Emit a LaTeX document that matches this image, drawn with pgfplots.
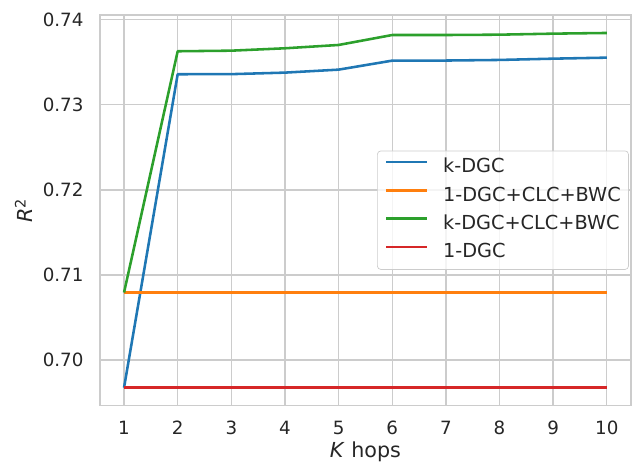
\documentclass[border=0pt]{standalone}
\usepackage{fontspec}
\setmainfont{DejaVu Sans}
\usepackage{pgfplots}
\pgfplotsset{compat=1.18}
\definecolor{tabblue}{HTML}{1F77B4}
\definecolor{taborange}{HTML}{FF7F0E}
\definecolor{tabgreen}{HTML}{2CA02C}
\definecolor{tabred}{HTML}{D62728}
\definecolor{gridc}{HTML}{CCCCCC}
\definecolor{txt}{HTML}{262626}
\begin{document}
\begin{tikzpicture}
\begin{axis}[
  scale only axis,
  width=311pt, height=228.6pt,
  xmin=0.55, xmax=10.45,
  ymin=0.69467, ymax=0.74055,
  xtick={1,2,3,4,5,6,7,8,9,10},
  ytick={0.70,0.71,0.72,0.73,0.74},
  /pgf/number format/assume math mode=true,
  tick style={draw=none},
  ticklabel style={font=\fontsize{10.7pt}{12.8pt}\selectfont, text=txt, inner sep=0pt},
  yticklabel style={/pgf/number format/fixed, /pgf/number format/fixed zerofill, /pgf/number format/precision=2, anchor=base east, xshift=-9.4pt, yshift=-3.9pt},
  xticklabel style={anchor=base, yshift=-17.3pt},
  grid=major,
  major grid style={draw=gridc, line width=0.8pt},
  axis line style={draw=gridc, line width=1pt},
  xlabel={\textit{K} hops},
  ylabel={\textit{R}\textsuperscript{2}},
  label style={font=\fontsize{12.1pt}{14.5pt}\selectfont, text=txt, inner sep=0pt},
  xlabel style={at={([yshift=-30.4pt]axis description cs:0.5,0)}, anchor=base},
  ylabel style={at={([xshift=-39.2pt]axis description cs:0,0.5)}, anchor=base},
  legend style={at={(0.996,0.5)}, anchor=east, draw=gridc, fill=white, fill opacity=0.8, text opacity=1, rounded corners=2pt, font=\fontsize{11.3pt}{13.5pt}\selectfont, text=txt, row sep=5.6pt, inner xsep=4.5pt, inner ysep=4.3pt, nodes={inner sep=0pt, text height=8.5pt, text depth=2.5pt}},
  legend cell align=left,
  legend image code/.code={\draw[#1] (0pt,3.3pt) -- (24pt,3.3pt);},
  /tikz/every odd column/.style={column sep=8.5pt},
  every axis plot/.append style={line width=1.5pt, line join=round},
]
\addplot[tabblue] coordinates {(1,0.69675) (2,0.73359) (3,0.73360) (4,0.73378) (5,0.73413) (6,0.73519) (7,0.73520) (8,0.73527) (9,0.73542) (10,0.73554)};
\addlegendentry{k-DGC}
\addplot[taborange] coordinates {(1,0.70793) (2,0.70793) (3,0.70793) (4,0.70793) (5,0.70793) (6,0.70793) (7,0.70793) (8,0.70793) (9,0.70793) (10,0.70793)};
\addlegendentry{1-DGC+CLC+BWC}
\addplot[tabgreen] coordinates {(1,0.70793) (2,0.73629) (3,0.73636) (4,0.73664) (5,0.73703) (6,0.73820) (7,0.73820) (8,0.73824) (9,0.73836) (10,0.73844)};
\addlegendentry{k-DGC+CLC+BWC}
\addplot[tabred] coordinates {(1,0.69675) (2,0.69675) (3,0.69675) (4,0.69675) (5,0.69675) (6,0.69675) (7,0.69675) (8,0.69675) (9,0.69675) (10,0.69675)};
\addlegendentry{1-DGC}
\end{axis}
\pgfresetboundingbox
\path[use as bounding box] ([xshift=-58.5pt,yshift=-35.3pt]current axis.south west) rectangle ([xshift=1.2pt,yshift=8.8pt]current axis.north east);
\end{tikzpicture}
\end{document}
